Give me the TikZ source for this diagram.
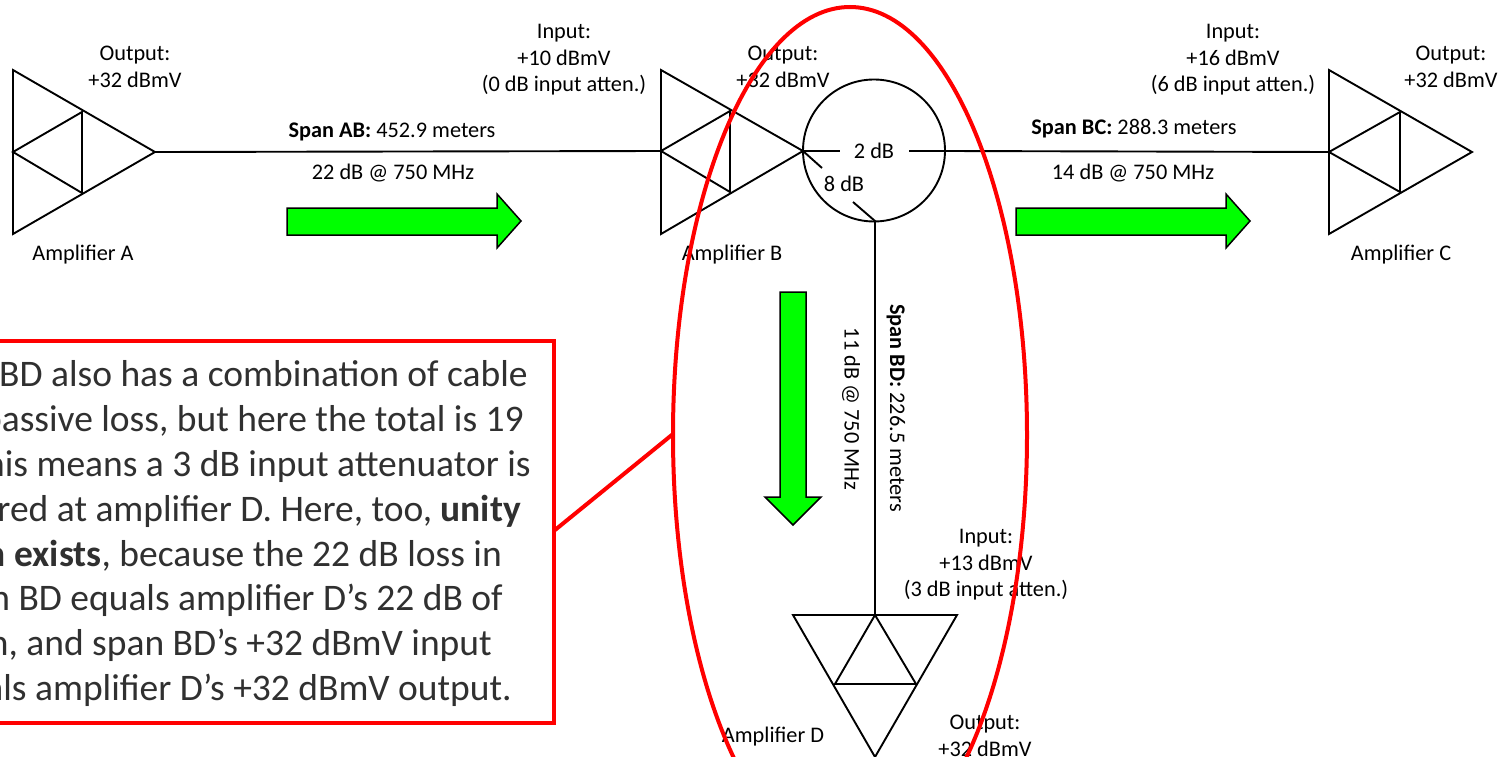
\documentclass[tikz,border=0pt]{standalone}
\usepackage{fontspec}
\setmainfont{Carlito}
\usetikzlibrary{arrows.meta}
\definecolor{arrowgreen}{RGB}{0,255,0}
\definecolor{calloutgrey}{RGB}{48,48,48}
\tikzset{
  wire/.style={line width=1.9pt, black},
  redline/.style={line width=4pt, red},
  greenarrow/.style={draw=black, line width=1.5pt, fill=arrowgreen},
  lbl/.style={inner sep=0pt, align=center, font=\fontsize{22.3}{26.5}\selectfont},
  calloutline/.style={inner sep=0pt, anchor=base east, text=calloutgrey, font=\fontsize{37.5}{44}\selectfont}
}
\begin{document}
\begin{tikzpicture}[x=1pt,y=-1pt]
\useasboundingbox (0,0) rectangle (1505,757);
\clip (0,0) rectangle (1505,757);
% amplifier ends
\coordinate (Ain) at (13,152);
\coordinate (Aout) at (155,152);
\coordinate (Bin) at (661,151);
\coordinate (Bout) at (803,151);
\coordinate (Cin) at (1329,152);
\coordinate (Dtop) at (875,615);
\coordinate (tapR) at (945,151);
\coordinate (tapD) at (875,221);
\coordinate (gapL) at (840,151);
\coordinate (gapR) at (909,151);
\coordinate (tickL) at (822,168);
\coordinate (tickD) at (853,202);
% amplifier A
\draw[wire] (13,70) -- (13,234) -- (Aout) -- cycle;
\draw[wire] (Ain) -- (82,112) -- (82,193) -- cycle;
% amplifier B
\draw[wire] (661,70) -- (661,234) -- (Bout) -- cycle;
\draw[wire] (Bin) -- (730,111) -- (730,192) -- cycle;
% amplifier C
\draw[wire] (1329,70) -- (1329,234) -- (1472,152) -- cycle;
\draw[wire] (Cin) -- (1400,112) -- (1400,192) -- cycle;
% amplifier D
\draw[wire] (793,615) -- (957,615) -- (875,757) -- cycle;
\draw[wire] (Dtop) -- (835,684) -- (916,684) -- cycle;
% tap
\draw[wire] (874,150.5) circle (71);
\draw[wire] (Aout) -- (Bin);
\draw[wire] (Bout) -- (gapL);
\draw[wire] (gapR) -- (tapR) -- (Cin);
\draw[wire] (Bout) -- (tickL);
\draw[wire] (tickD) -- (tapD) -- (Dtop);
% arrows
\draw[greenarrow] (287,208) -- (497,208) -- (497,194) -- (521,221) -- (497,248) -- (497,235) -- (287,235) -- cycle;
\draw[greenarrow] (1016,208) -- (1226,208) -- (1226,194) -- (1250,221) -- (1226,248) -- (1226,235) -- (1016,235) -- cycle;
\draw[greenarrow] (780,292) -- (806,292) -- (806,497) -- (821,497) -- (793,525) -- (765,497) -- (780,497) -- cycle;
% labels
\node[lbl] (outA) at (135,67) {Output:\\+32 dBmV};
\node[lbl] (inB) at (564,60) {Input:\\+10 dBmV\\(0 dB input atten.)};
\node[lbl] (outB) at (783,67) {Output:\\+32 dBmV};
\node[lbl] (inC) at (1233,60) {Input:\\+16 dBmV\\(6 dB input atten.)};
\node[lbl] (outC) at (1451,67) {Output:\\+32 dBmV};
\node[lbl] (inD) at (986,565) {Input:\\+13 dBmV\\(3 dB input atten.)};
\node[lbl] (outD) at (985,736) {Output:\\+32 dBmV};
\node[lbl] (ampA) at (83,255) {Amplifier A};
\node[lbl] (ampB) at (732,255) {Amplifier B};
\node[lbl] (ampC) at (1401,255) {Amplifier C};
\node[lbl] (ampD) at (773,737) {Amplifier D};
\node[lbl] (spanAB) at (392,132) {\textbf{Span AB:} 452.9 meters};
\node[lbl] (lossAB) at (393,173) {22 dB @ 750 MHz};
\node[lbl] (spanBC) at (1134,129) {\textbf{Span BC:} 288.3 meters};
\node[lbl] (lossBC) at (1133,173) {14 dB @ 750 MHz};
\node[lbl] (twodB) at (874,151) {2 dB};
\node[lbl] (eightdB) at (844,184) {8 dB};
\node[lbl, rotate=-90] (spanBD) at (896,408) {\textbf{Span BD:} 226.5 meters};
\node[lbl, rotate=-90] (lossBD) at (851,409) {11 dB @ 750 MHz};
% callout
\draw[redline, fill=white] (-20,341) rectangle (554,723);
\node[calloutline] (c1) at (528,386) {Span BD also has a combination of cable};
\node[calloutline] (c2) at (524,431) {and passive loss, but here the total is 19};
\node[calloutline] (c3) at (531,476) {dB. This means a 3 dB input attenuator is};
\node[calloutline] (c4) at (521,521) {required at amplifier D. Here, too, \textbf{unity}};
\node[calloutline] (c5) at (502,566) {\textbf{gain exists}, because the 22 dB loss in};
\node[calloutline] (c6) at (503,610) {span BD equals amplifier D’s 22 dB of};
\node[calloutline] (c7) at (492,655) {gain, and span BD’s +32 dBmV input};
\node[calloutline] (c8) at (512,700) {equals amplifier D’s +32 dBmV output.};
% ellipse
\coordinate (ellL) at (673,434);
\coordinate (boxR) at (555,530);
\draw[redline] (boxR) -- (ellL);
\draw[redline] (850,435) ellipse [x radius=177pt, y radius=428pt];
\end{tikzpicture}
\end{document}
